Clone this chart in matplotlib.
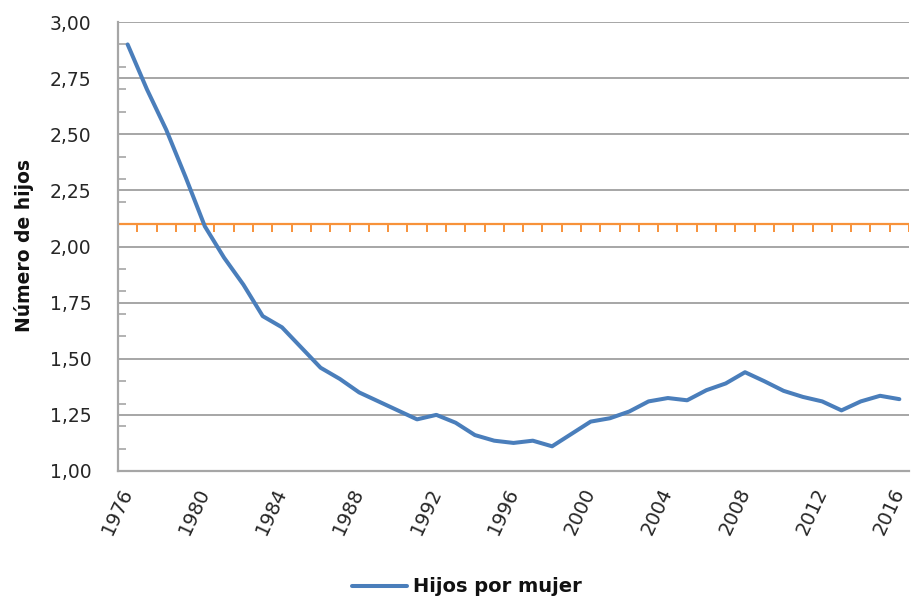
import matplotlib
matplotlib.use("Agg")
import matplotlib.pyplot as plt
from matplotlib.ticker import MultipleLocator, FixedLocator
import numpy as np

# Hijos por mujer, 1976-2016
years = list(range(1976, 2017))
hijos = [2.90, 2.70, 2.52, 2.31, 2.09, 1.95, 1.83, 1.69, 1.64, 1.55,
         1.46, 1.41, 1.35, 1.31, 1.27, 1.23, 1.25, 1.215, 1.16, 1.135,
         1.125, 1.135, 1.11, 1.165, 1.22, 1.235, 1.265, 1.31, 1.325, 1.315,
         1.36, 1.39, 1.44, 1.40, 1.357, 1.33, 1.31, 1.27, 1.31, 1.335,
         1.32]
reemplazo = 2.1
tick_years = list(range(1976, 2017, 4))

BLUE = '#4A7EBB'
ORANGE = '#F7923A'
GRID = '#A6A6A6'

fig = plt.figure(figsize=(9.11, 6.01), dpi=100)
ax = fig.add_axes([118 / 911, 1 - 471 / 601, (909 - 118) / 911, (471 - 22) / 601])

# gridlines
for v in np.arange(1.25, 3.01, 0.25):
    ax.axhline(v, color=GRID, lw=1.4, zorder=1)

# replacement level line with small ticks at every category boundary
x0, x1 = years[0] - 0.5, years[-1] + 0.5
ax.hlines(reemplazo, x0, x1, color=ORANGE, lw=1.6, zorder=2)
bounds = np.arange(x0, x1 + 0.01, 1.0)
ax.vlines(bounds, reemplazo - 0.036, reemplazo, color=ORANGE, lw=1.4, zorder=2)

line, = ax.plot(years, hijos, color=BLUE, lw=2.9, solid_capstyle='round',
                solid_joinstyle='round', zorder=3, label='Hijos por mujer')

ax.set_xlim(x0, x1)
ax.set_ylim(1.0, 3.0)

ax.yaxis.set_major_locator(MultipleLocator(0.25))
ax.yaxis.set_minor_locator(MultipleLocator(0.1))
ax.set_yticklabels([f'{v:.2f}'.replace('.', ',') for v in ax.get_yticks()])
ax.tick_params(axis='y', which='major', length=0, pad=19, labelsize=13.5, labelcolor='#262626')
ax.tick_params(axis='y', which='minor', direction='in', length=6, width=1.2, color=GRID)

ax.xaxis.set_major_locator(FixedLocator(tick_years))
ax.set_xticklabels([str(y) for y in tick_years], rotation=65, ha='right', va='center',
                   rotation_mode='anchor')
ax.tick_params(axis='x', length=0, pad=13, labelsize=14, labelcolor='#262626')

for s in ['top', 'right']:
    ax.spines[s].set_visible(False)
for s in ['left', 'bottom']:
    ax.spines[s].set_color(GRID)
    ax.spines[s].set_linewidth(1.6)

fig.text(24 / 911, 1 - 245 / 601, 'Número de hijos', rotation=90, ha='center', va='center',
         fontsize=13.5, fontweight='bold', color='#111111')

fig.legend(handles=[line], loc='center', bbox_to_anchor=(467 / 911, 1 - 587 / 601),
           frameon=False, handlelength=2.8, handletextpad=0.3,
           prop={'size': 14, 'weight': 'bold'}, labelcolor='#111111')

fig.savefig('out.png', dpi=100)
